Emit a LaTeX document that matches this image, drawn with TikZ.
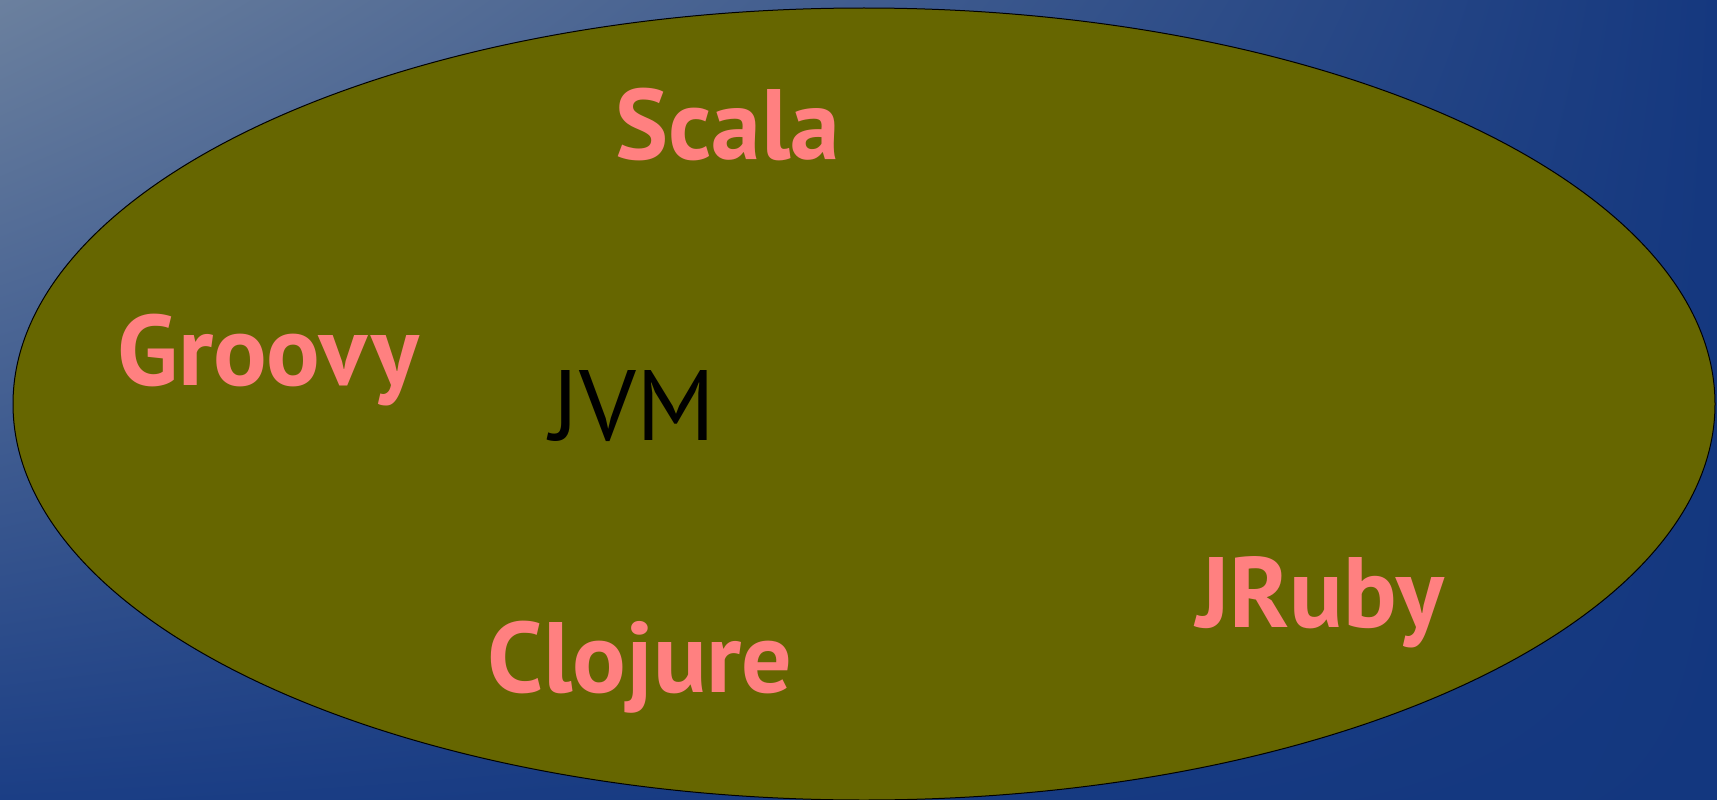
\documentclass[tikz,border=0pt]{standalone}
\usepackage{fontspec}
\usetikzlibrary{shadings}
\setmainfont{PT Sans}
\definecolor{bgTL}{HTML}{6B809E}
\definecolor{bgTR}{HTML}{15387F}
\definecolor{bgBL}{HTML}{1B3E85}
\definecolor{bgBR}{HTML}{13377F}
\definecolor{olive}{HTML}{666600}
\definecolor{lang}{HTML}{FF8080}
\tikzset{
  langlabel/.style={anchor=base, text=lang, font=\fontsize{100}{115}\selectfont\bfseries, inner sep=0pt},
  vmlabel/.style={anchor=base, text=black, font=\fontsize{100}{115}\selectfont, inner sep=0pt}
}
\begin{document}
\begin{tikzpicture}[x=1pt,y=-1pt]
\useasboundingbox (0,0) rectangle (1717,800);
\shade[upper left=bgTL, upper right=bgTR, lower left=bgBL, lower right=bgBR] (0,0) rectangle (1717,800);
\begin{scope}
\clip (0,0) rectangle (1717,800);
\draw[fill=olive, draw=black, line width=1pt] (864,404) ellipse [x radius=851, y radius=396];
\end{scope}
\node[vmlabel] (jvm) at (633,440) {JVM};
\node[langlabel] (scala) at (728,159) {Scala};
\node[langlabel] (groovy) at (268,385) {Groovy};
\node[langlabel] (jruby) at (1320,627) {JRuby};
\node[langlabel] (clojure) at (640,692) {Clojure};
\end{tikzpicture}
\end{document}
